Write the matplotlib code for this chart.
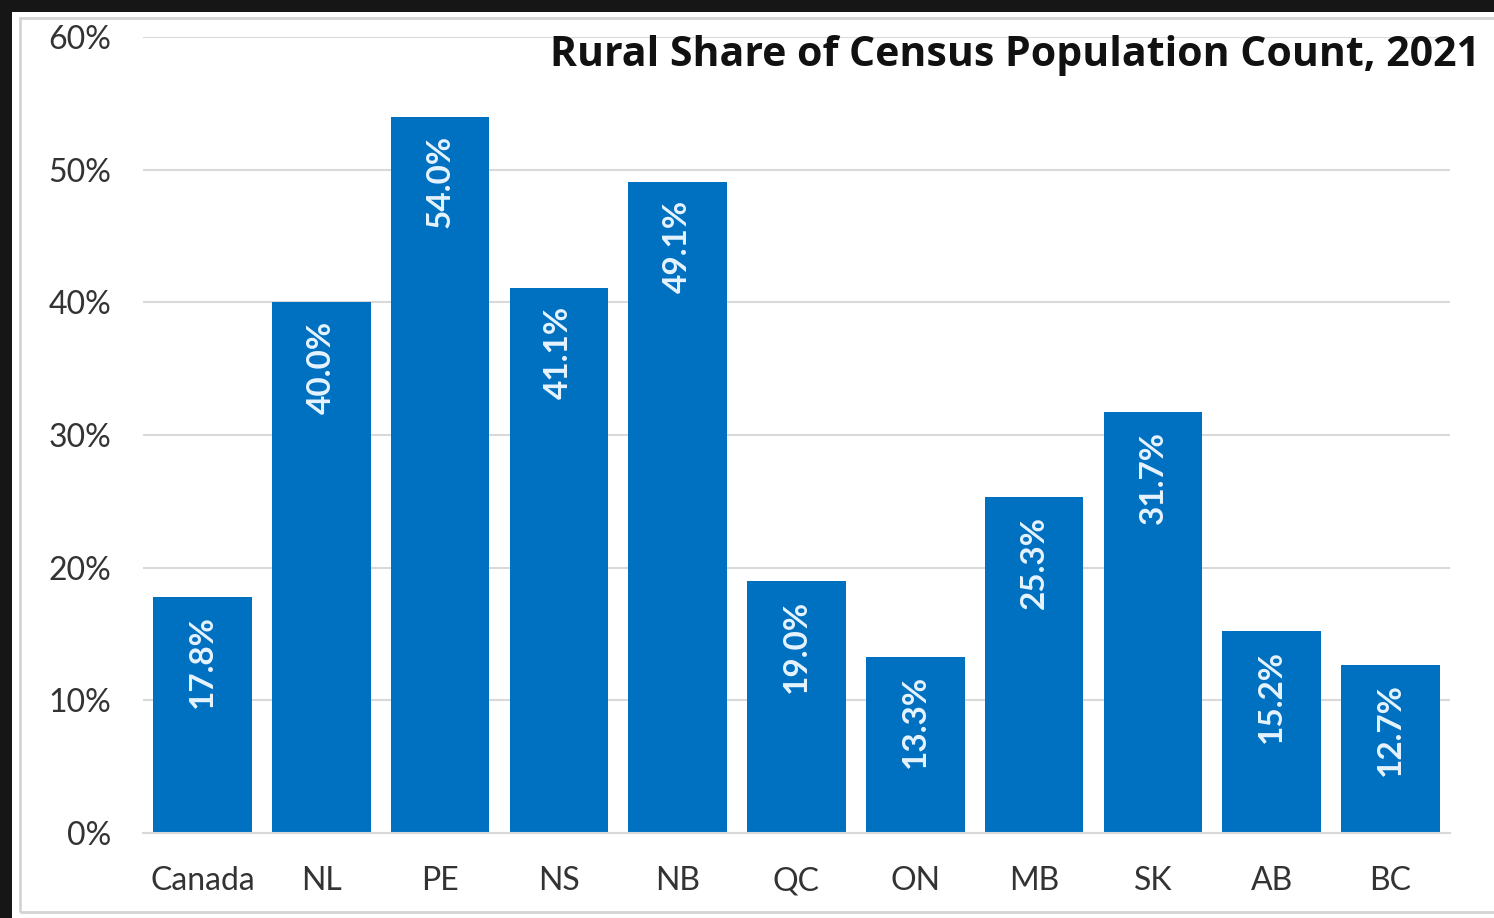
import matplotlib.pyplot as plt
from matplotlib.patches import Rectangle

regions = ['Canada', 'NL', 'PE', 'NS', 'NB', 'QC', 'ON', 'MB', 'SK', 'AB', 'BC']
rural_share = [17.8, 40.0, 54.0, 41.1, 49.1, 19.0, 13.3, 25.3, 31.7, 15.2, 12.7]
y_ticks = [0, 10, 20, 30, 40, 50, 60]

W, H = 1494, 918
fig = plt.figure(figsize=(W / 100, H / 100), dpi=100)
fig.patch.set_facecolor('white')

# dark screenshot border on top and left
fig.patches.append(Rectangle((0, 1 - 12 / H), 1, 12 / H, transform=fig.transFigure,
                             facecolor='#161616', edgecolor='none', zorder=0))
fig.patches.append(Rectangle((0, 0), 12 / W, 1, transform=fig.transFigure,
                             facecolor='#161616', edgecolor='none', zorder=0))
# light gray chart frame
fig.patches.append(Rectangle((20 / W, 6 / H), 1.2, (918 - 18 - 6) / H, transform=fig.transFigure,
                             facecolor='none', edgecolor='#d4d4d4', lw=2, zorder=0))

ax = fig.add_axes([143 / W, (H - 833) / H, (1450 - 143) / W, (833 - 37) / H])
ax.bar(range(len(regions)), rural_share, width=0.83, color='#0070c0', zorder=2)

for i, v in enumerate(rural_share):
    ax.text(i, v - 1.4, '%.1f%%' % v, rotation=90, ha='center', va='top',
            color='#e6f4ff', fontsize=24, fontweight='bold', family='Lato')

ax.set_xlim(-0.5, len(regions) - 0.5)
ax.set_ylim(0, 60)
ax.set_yticks(y_ticks)
ax.set_yticklabels(['%d%%' % t for t in y_ticks], family='Lato', fontsize=23, color='#333333')
ax.set_xticks(range(len(regions)))
ax.set_xticklabels(regions, family='Lato', fontsize=23, color='#333333')
ax.tick_params(length=0)
ax.tick_params(axis='y', pad=23)
ax.tick_params(axis='x', pad=24)
ax.grid(axis='y', color='#d9d9d9', lw=1.5, zorder=0)
for s in ['top', 'right', 'left']:
    ax.spines[s].set_visible(False)
ax.spines['bottom'].set_color('#d9d9d9')
ax.spines['bottom'].set_linewidth(1.5)

fig.text(1480 / W, 1 - 55 / H, 'Rural Share of Census Population Count, 2021', ha='right', va='center',
         fontsize=29.5, fontweight='bold', family='Open Sans', color='#111111')

fig.savefig('out.png', dpi=100)
